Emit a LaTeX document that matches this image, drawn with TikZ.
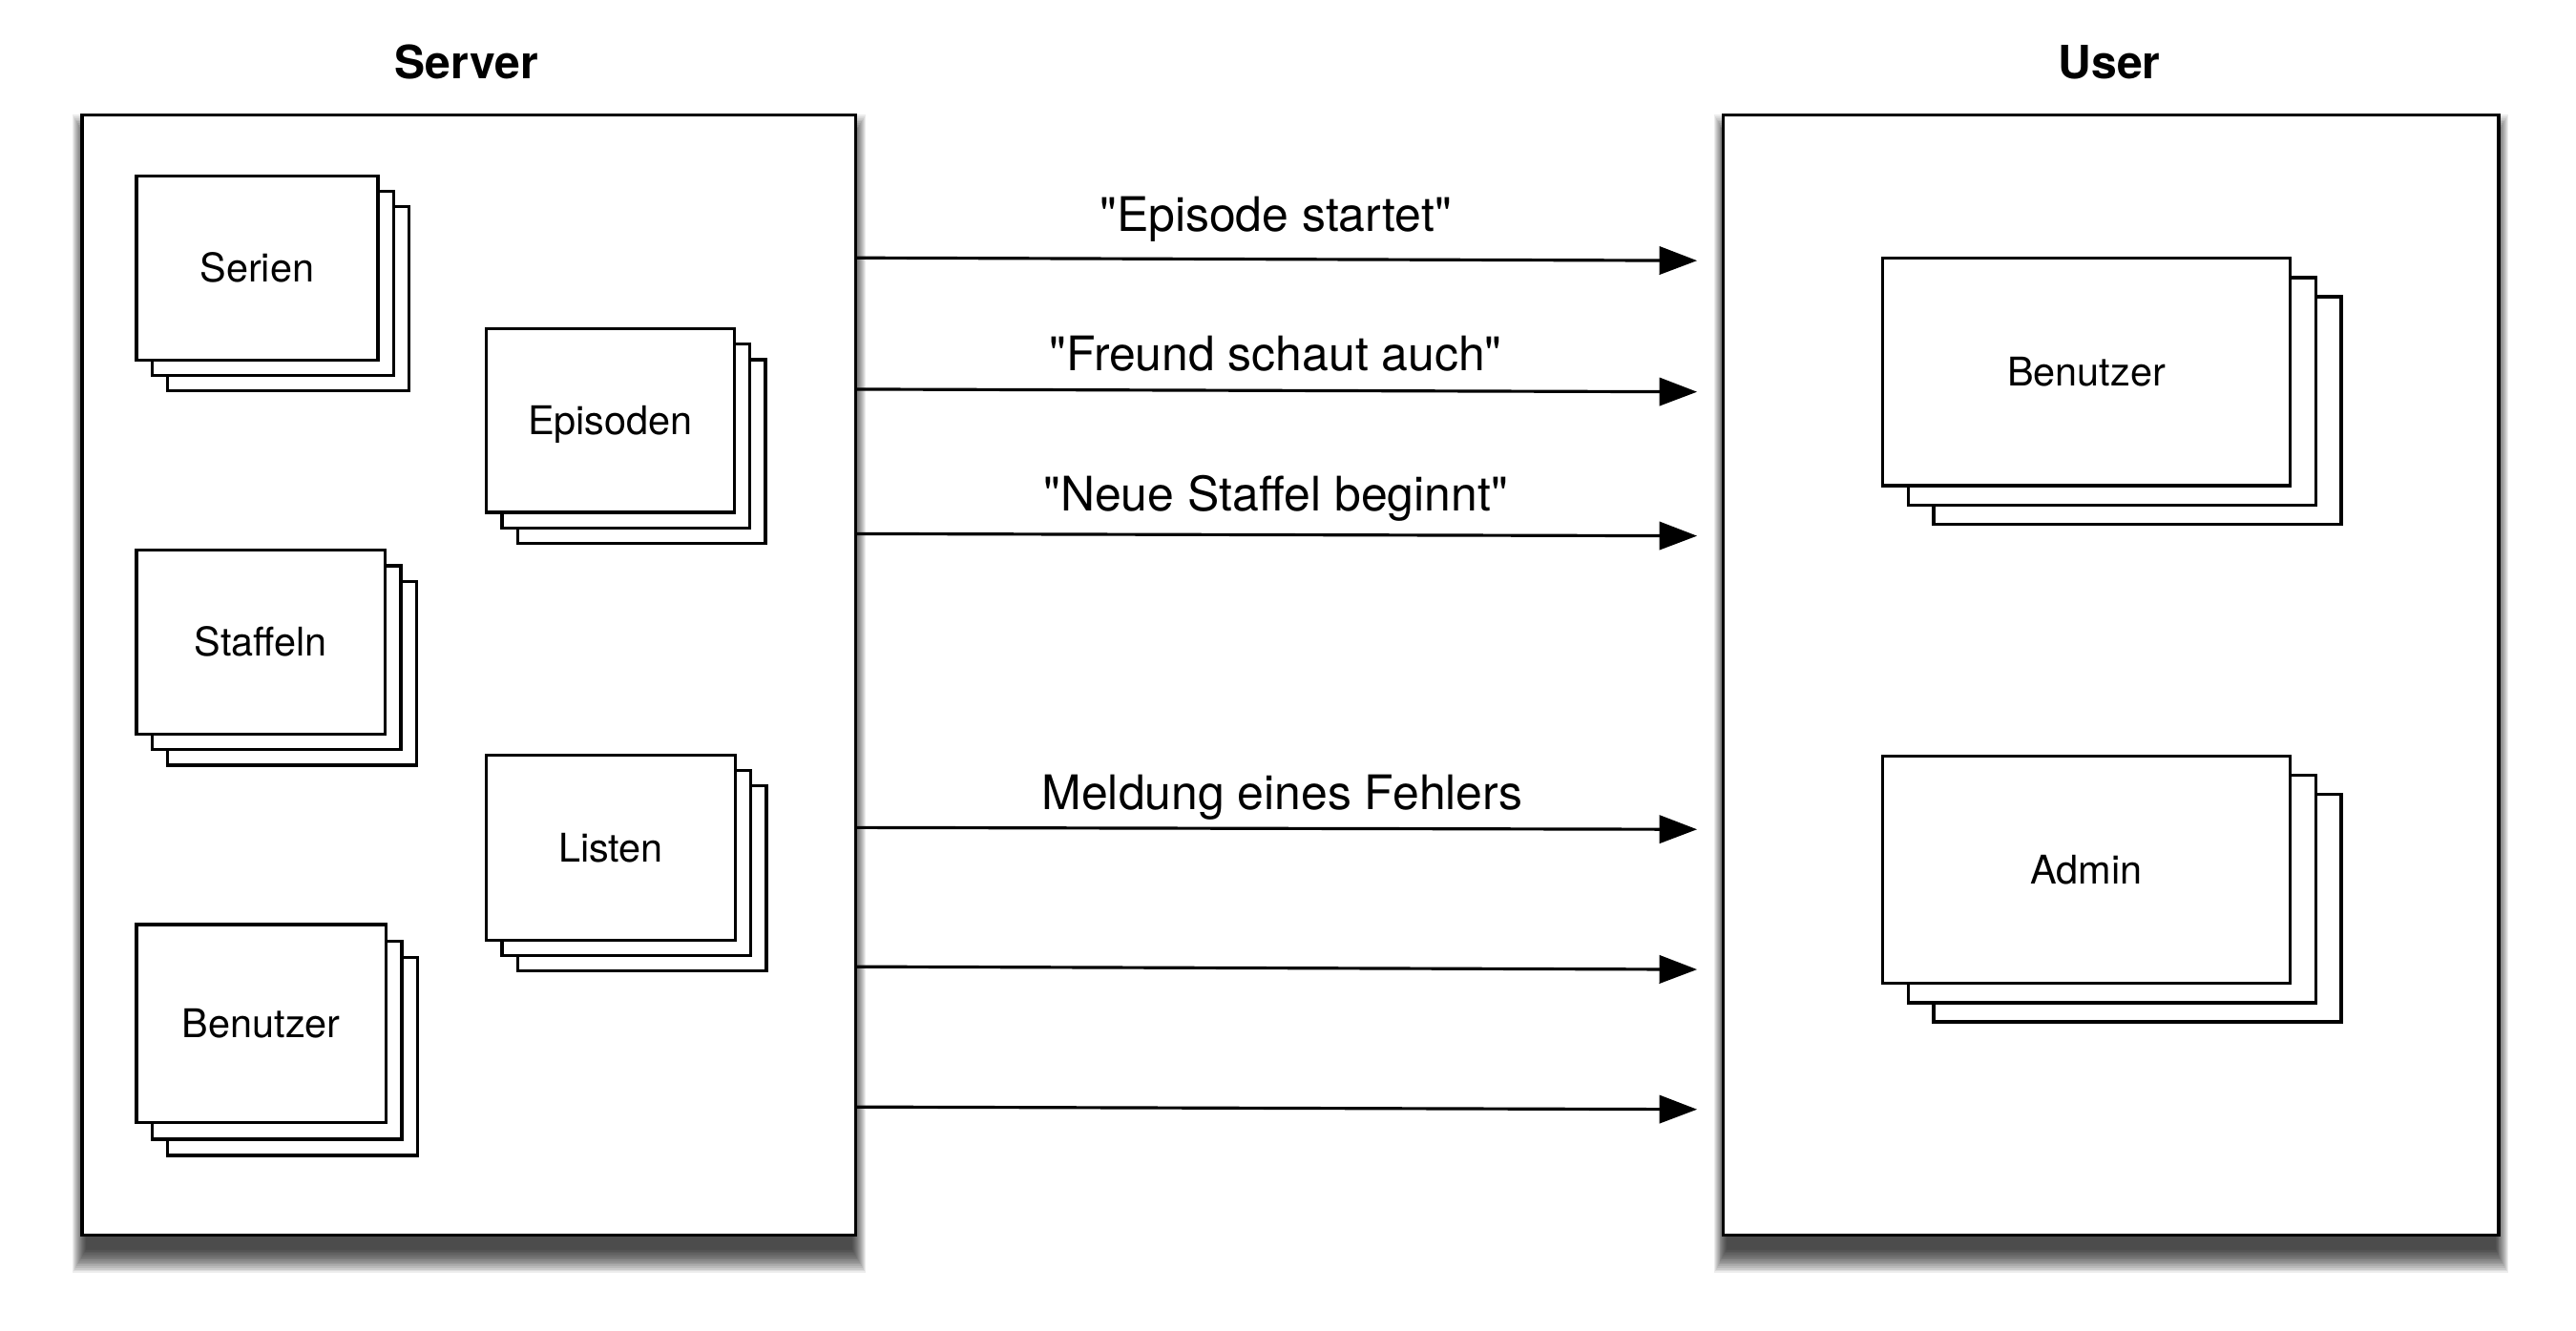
\documentclass[tikz,border=0pt]{standalone}
\usepackage{fontspec}
\setmainfont{TeX Gyre Heros}[Ligatures=TeXOff]
\usetikzlibrary{arrows.meta}
\tikzset{
  outer/.style={draw=black, fill=white, line width=1.15pt, inner sep=0pt},
  card/.style={draw=black, fill=white, line width=1.1pt},
  cardlabel/.style={anchor=base, inner sep=0pt, font=\fontsize{13.7}{16}\selectfont},
  title/.style={anchor=base, inner sep=0pt, font=\fontsize{15.9}{19}\selectfont\bfseries},
  msglabel/.style={anchor=base, inner sep=0pt, font=\fontsize{16.5}{20}\selectfont},
  msg/.style={line width=1.05pt, -{Triangle[length=0.46cm, width=0.34cm]}},
}
\newcommand\stackbox[8]{%
  \path[card] (#2+2*#6,#3+2*#7) rectangle (#4+2*#6,#5+2*#7);
  \path[card] (#2+#6,#3+#7) rectangle (#4+#6,#5+#7);
  \path[card] (#2,#3) rectangle (#4,#5);
  \node[cardlabel] (#1) at ({(#2+#4)/2},{(#3+#5)/2+8.6}) {#8};
}
\newcommand\softshadow[4]{%
  \foreach \r in {0,...,14}{
    \fill[black, opacity=0.075] (#1+2-0.55*\r,#2+14-\r) rectangle (#3-2+0.55*\r,#4+9+\r);
  }
}
\begin{document}
\begin{tikzpicture}[x=0.02cm, y=-0.02cm]
\useasboundingbox (0,0) rectangle (1568,810);
\fill[white] (0,0) rectangle (1568,810);

% shadows
\softshadow{50}{70}{521}{752}
\softshadow{1049}{70}{1521}{752}

% outer boxes
\node[outer, minimum width=9.42cm, minimum height=13.64cm] (server) at (285.5,411) {};
\node[outer, minimum width=9.44cm, minimum height=13.64cm] (user) at (1285,411) {};

% titles
\node[title] (servertitle) at (284,48) {Server};
\node[title] (usertitle) at (1284,48) {User};

% server stacks
\stackbox{serien}{83}{107}{230}{219.5}{9.5}{9.3}{Serien}
\stackbox{episoden}{296}{200}{447}{312}{9.5}{9.5}{Episoden}
\stackbox{staffeln}{83}{335}{234.5}{447}{9.5}{9.5}{Staffeln}
\stackbox{listen}{296}{460}{447.5}{572.5}{9.5}{9.3}{Listen}
\stackbox{benutzerS}{83}{563}{235}{683.6}{9.5}{10}{Benutzer}

% user stacks
\stackbox{benutzerU}{1146}{157.3}{1394}{295.8}{15.5}{11.7}{Benutzer}
\stackbox{admin}{1146}{460.3}{1394}{598.8}{15.5}{11.7}{Admin}

% arrows
\coordinate (s1) at (521,157);   \coordinate (u1) at (1033,158.7);
\coordinate (s2) at (521,237);   \coordinate (u2) at (1033,238.6);
\coordinate (s3) at (521,325);   \coordinate (u3) at (1033,326.3);
\coordinate (s4) at (521,503.9); \coordinate (u4) at (1033,505);
\coordinate (s5) at (521,588.6); \coordinate (u5) at (1033,590.3);
\coordinate (s6) at (521,674);   \coordinate (u6) at (1033,675.5);
\draw[msg] (s1) -- (u1);
\draw[msg] (s2) -- (u2);
\draw[msg] (s3) -- (u3);
\draw[msg] (s4) -- (u4);
\draw[msg] (s5) -- (u5);
\draw[msg] (s6) -- (u6);

% labels
\node[msglabel] (l1) at (776.5,141) {"Episode startet"};
\node[msglabel] (l2) at (776.5,225.5) {"Freund schaut auch"};
\node[msglabel] (l3) at (776.5,311) {"Neue Staffel beginnt"};
\node[msglabel] (l4) at (780.5,492.8) {Meldung eines Fehlers};
\end{tikzpicture}
\end{document}
